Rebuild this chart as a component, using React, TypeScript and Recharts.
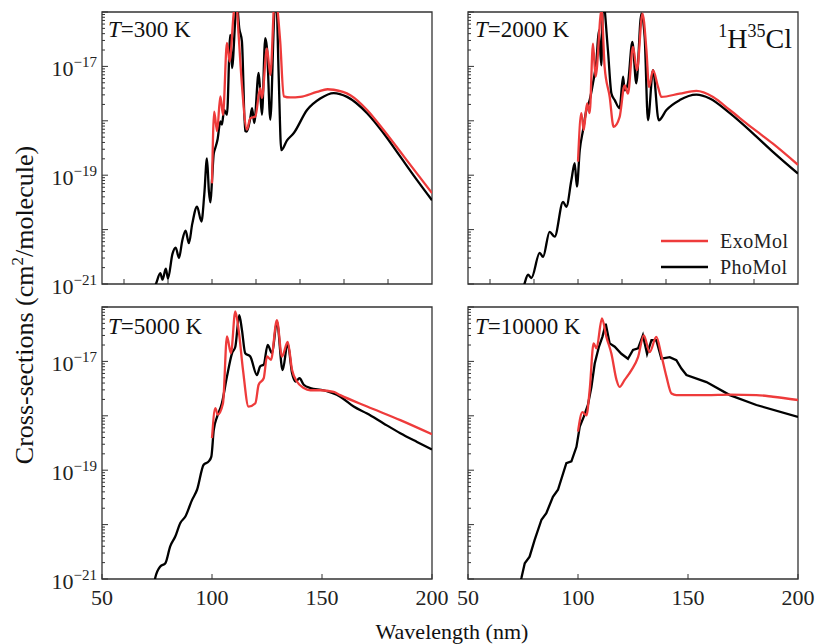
import React from 'react';
import { LineChart, Line, XAxis, YAxis, ReferenceArea } from 'recharts';

// [wavelength (nm), cross-section (cm^2/molecule)]
const pho300: number[][] = [
  [73, 7.9e-22], [74.5, 1.0e-21], [76.5, 1.58e-21], [77.5, 1.2e-21], [79, 1.91e-21], [80, 1.26e-21],
  [82, 3.55e-21], [83.5, 4.68e-21], [85, 3.02e-21], [86.5, 6.31e-21], [88, 9.55e-21], [89.5, 5.62e-21],
  [91, 1.26e-20], [93.2, 2.63e-20], [95.2, 1.41e-20], [96.5, 4.47e-20], [97.7, 2.04e-19], [98.6, 5.01e-20],
  [99.3, 3.16e-20], [100, 7.94e-20], [100.8, 2.51e-19], [101.5, 3.16e-19], [102.5, 4.47e-19], [103.8, 9.77e-19],
  [104.5, 8.51e-19], [105.5, 1.58e-18], [106.8, 1.29e-18], [108.3, 3.8e-17], [109.1, 9.33e-18], [110.6, 7.59e-17],
  [111.2, 1.58e-16], [112.4, 5.01e-17], [113.6, 2.88e-17], [115.1, 6.46e-19], [115.8, 6.31e-19], [117.4, 1.12e-18],
  [118.2, 1.7e-18], [119.2, 9.12e-19], [121.2, 7.59e-18], [121.9, 3.47e-18], [122.7, 1.29e-18], [124.2, 3.31e-17],
  [125, 2.14e-17], [126.5, 1.05e-18], [128.3, 8.91e-17], [129.2, 2.0e-16], [130.3, 6.92e-18], [131.5, 2.88e-19],
  [134.1, 4.37e-19], [137.1, 5.89e-19], [143.2, 1.58e-18], [149.2, 2.57e-18], [155.3, 3.24e-18], [161.4, 2.75e-18],
  [170.5, 1.38e-18], [178, 5.89e-19], [185.6, 2.19e-19], [193.2, 8.13e-20], [200, 3.47e-20],
];
const exo300: number[][] = [
  [100, 7.08e-20], [101, 1.48e-18], [102.3, 6.46e-19], [103.8, 2.82e-18], [105, 1.29e-18], [106.8, 2.69e-17],
  [108, 1.23e-17], [109.8, 8.91e-17], [110.8, 2.0e-16], [112.1, 3.8e-17], [113.6, 4.57e-18], [115.9, 6.92e-19],
  [117.4, 1.12e-18], [119.7, 1.2e-18], [121.9, 3.98e-18], [122.7, 2.63e-18], [125, 2.14e-17], [126.5, 6.92e-18],
  [128.6, 2.0e-16], [131, 2.88e-17], [132.6, 2.82e-18], [135.6, 2.69e-18], [140.1, 2.75e-18], [147.7, 3.39e-18],
  [152.5, 3.8e-18], [155.3, 3.72e-18], [162.9, 2.95e-18], [170.5, 1.58e-18], [178, 6.76e-19], [185.6, 2.69e-19],
  [193.2, 1.07e-19], [200, 4.68e-20],
];
const pho2000: number[][] = [
  [75, 7.94e-22], [75.8, 1.05e-21], [77.3, 1.48e-21], [78.8, 1.29e-21], [82.6, 3.72e-21], [84.1, 3.16e-21],
  [87.1, 9.12e-21], [89.4, 7.41e-21], [93.2, 3.24e-20], [94.7, 2.63e-20], [97, 8.13e-20], [98.5, 1.66e-19],
  [99.5, 6.17e-20], [100.8, 2.88e-19], [102.3, 6.76e-19], [103.8, 1.58e-18], [105.3, 2.4e-18], [106.8, 4.9e-18],
  [108.4, 1.29e-17], [109.5, 4.57e-17], [110.6, 1.05e-17], [111.4, 1.58e-16], [113.6, 2.0e-17], [115.2, 3.16e-18],
  [116.7, 2.4e-18], [118.9, 1.7e-18], [120.5, 6.46e-18], [121.2, 3.63e-18], [122.7, 4.9e-18], [124.7, 2.82e-17],
  [126.5, 4.9e-18], [128.8, 9.33e-17], [130.3, 3.47e-17], [131.8, 1.02e-18], [134.1, 8.51e-18], [136.7, 1.02e-18],
  [140.2, 1.58e-18], [146.2, 2.4e-18], [153.8, 3.02e-18], [159.9, 2.57e-18], [169, 1.38e-18], [179.5, 5.89e-19],
  [188.6, 2.69e-19], [200, 1.07e-19],
];
const exo2000: number[][] = [
  [100, 1.78e-19], [101.5, 1.38e-18], [102.6, 6.76e-19], [104.1, 2.09e-18], [105.3, 1.38e-18], [106.8, 2.63e-17],
  [108, 6.46e-18], [110.7, 1.1e-16], [112.1, 9.77e-18], [114.4, 2.75e-18], [116.2, 7.76e-19], [118.9, 1.17e-18],
  [121.2, 4.47e-18], [122.7, 3.16e-18], [125, 2.29e-17], [126.8, 8.51e-18], [129.3, 9.33e-17], [131.1, 2.0e-17],
  [132.3, 4.17e-18], [134.1, 8.51e-18], [136.4, 4.17e-18], [137.9, 2.75e-18], [146.2, 3.16e-18], [153.8, 3.55e-18],
  [161.4, 2.75e-18], [169, 1.58e-18], [179.5, 7.24e-19], [188.6, 3.8e-19], [200, 1.55e-19],
];
const pho5000: number[][] = [
  [73.5, 7.08e-22], [74.2, 1.05e-21], [76.5, 1.7e-21], [78.8, 1.95e-21], [81, 3.98e-21], [83.3, 6.03e-21],
  [85.6, 1.07e-20], [87.9, 1.41e-20], [90.9, 2.82e-20], [93.2, 4.37e-20], [96.2, 1.26e-19], [98.5, 1.45e-19],
  [99.7, 1.78e-19], [100.8, 5.5e-19], [102.3, 9.55e-19], [104.5, 1.7e-18], [106.8, 5.25e-18], [109.1, 1.41e-17],
  [110.6, 1.86e-17], [112.4, 7.08e-17], [113.6, 3.8e-17], [115.1, 1.41e-17], [117.4, 1.23e-17], [120.4, 5.62e-18],
  [121.9, 8.13e-18], [123.5, 8.71e-18], [125.3, 2.0e-17], [127.3, 1.41e-17], [129.5, 5.37e-17], [132.1, 6.92e-18],
  [134.4, 2.14e-17], [136.4, 6.03e-18], [137.9, 4.27e-18], [139.8, 4.9e-18], [141.7, 3.72e-18], [144.7, 3.24e-18],
  [150.7, 2.95e-18], [158.3, 2.24e-18], [164.4, 1.48e-18], [170.5, 1.1e-18], [178, 7.24e-19], [185.6, 4.79e-19],
  [193.2, 3.31e-19], [200, 2.4e-19],
];
const exo5000: number[][] = [
  [100, 3.89e-19], [101.5, 1.38e-18], [102.6, 1.05e-18], [105, 1.7e-18], [106.8, 2.88e-17], [108.6, 1.41e-17],
  [110.6, 8.32e-17], [112.1, 3.8e-17], [114.1, 6.92e-18], [116.6, 1.48e-18], [119.7, 1.7e-18], [121.2, 3.72e-18],
  [123.5, 4.9e-18], [125, 1.23e-17], [126.8, 1.07e-17], [129.5, 5.75e-17], [131.8, 1.23e-17], [134.4, 2.29e-17],
  [136.4, 6.92e-18], [138.6, 4.27e-18], [141.7, 3.24e-18], [144.7, 2.95e-18], [149.2, 2.95e-18], [155.3, 2.75e-18],
  [158.3, 2.4e-18], [170.5, 1.48e-18], [185.6, 8.32e-19], [200, 4.57e-19],
];
const pho10000: number[][] = [
  [73.5, 7.94e-22], [74.3, 1.05e-21], [75.8, 1.95e-21], [78, 2.57e-21], [80.3, 5.25e-21], [83.4, 1.23e-20],
  [85.6, 1.62e-20], [88.6, 3.24e-20], [90.9, 4.37e-20], [94.7, 1.35e-19], [97, 1.45e-19], [99.3, 2.69e-19],
  [100.8, 6.31e-19], [102.6, 9.55e-19], [104.5, 1.58e-18], [106.1, 3.39e-18], [107.6, 9.12e-18], [109.5, 1.86e-17],
  [111.1, 2.82e-17], [112.6, 4.9e-17], [114.4, 2.14e-17], [116.7, 1.86e-17], [119.7, 1.38e-17], [122.7, 1.12e-17],
  [125, 1.62e-17], [127.3, 1.74e-17], [129.5, 3.02e-17], [131.4, 1.38e-17], [133.4, 2.45e-17], [135.6, 2.45e-17],
  [137.9, 1.12e-17], [141.7, 1.2e-17], [144.7, 1.05e-17], [147, 7.41e-18], [149.3, 5.62e-18], [158.4, 4.17e-18],
  [169, 2.4e-18], [181.1, 1.58e-18], [200, 9.55e-19],
];
const exo10000: number[][] = [
  [100, 5.13e-19], [102, 1.17e-18], [103.8, 1.02e-18], [105.3, 2.95e-18], [107.1, 2.14e-17], [108.4, 1.74e-17],
  [110.9, 6.17e-17], [112.9, 2.82e-17], [115.2, 1.38e-17], [117.5, 4.57e-18], [118.9, 3.39e-18], [121.2, 4.57e-18],
  [124.3, 6.92e-18], [127.3, 1.2e-17], [129.9, 3.02e-17], [132.6, 1.48e-17], [135.6, 2.82e-17], [137.9, 1.29e-17],
  [140.2, 5.25e-18], [142.5, 2.57e-18], [144.7, 2.4e-18], [158.4, 2.4e-18], [169, 2.45e-18], [181.1, 2.4e-18],
  [188.6, 2.24e-18], [200, 1.95e-18],
];

const temperatures = ['300', '2000', '5000', '10000'];
const xTicksTop = [60, 80, 100, 120, 140, 160, 180];
const xTicksBottom = [50, 100, 150, 200];
const decades = [-21, -20, -19, -18, -17];
const labeledExponents = [-21, -19, -17];
const seriesNames = ['ExoMol', 'PhoMol'];

const FONT = '"Liberation Serif", "Times New Roman", serif';
const RED = '#ee3b3b';
const FRAME = '#333';

const yTicks: number[] = [];
decades.forEach((d) => {
  for (let k = 1; k <= 9; k++) yTicks.push(k * Math.pow(10, d));
});
yTicks.push(1e-16);

const toRows = (pairs: number[][]) => pairs.map(([wl, xs]) => ({ wl, xs }));

const makeYTick = (showLabel: boolean) => (props: any) => {
  const { x, y, payload } = props;
  const e = Math.log10(payload.value);
  const re = Math.round(e);
  const major = Math.abs(e - re) < 1e-6;
  const len = major ? 6 : 3;
  return (
    <g>
      <line x1={x} y1={y} x2={x + len} y2={y} stroke={FRAME} strokeWidth={1} />
      {showLabel && major && labeledExponents.includes(re) && (
        <text x={x - 5} y={y + 10} textAnchor="end" fontFamily={FONT} fontSize={22} fill="#222">
          10
          <tspan dy={-9} fontSize={15}>{'\u2212' + String(-re)}</tspan>
        </text>
      )}
    </g>
  );
};

const makeXTick = (showLabel: boolean) => (props: any) => {
  const { x, y, payload } = props;
  return (
    <g>
      <line x1={x} y1={y} x2={x} y2={y - 5} stroke={FRAME} strokeWidth={1} />
      {showLabel && (
        <text x={x} y={y + 26} textAnchor="middle" fontFamily={FONT} fontSize={22} fill="#222">
          {payload.value}
        </text>
      )}
    </g>
  );
};

type PanelProps = {
  pho: number[][];
  exo: number[][];
  left: number;
  top: number;
  yw: number;
  xh: number;
  isLeft: boolean;
  isBottom: boolean;
  stepped?: boolean;
};

const Panel = ({ pho, exo, left, top, yw, xh, isLeft, isBottom, stepped }: PanelProps) => {
  const plotW = 330;
  const plotH = 272;
  const rm = isBottom ? 20 : 2;
  const width = yw + plotW + rm;
  const height = 2 + plotH + xh;
  return (
    <div style={{ position: 'absolute', left, top }}>
      <LineChart width={width} height={height} margin={{ top: 2, right: rm, bottom: 0, left: 0 }}>
        <XAxis
          type="number"
          dataKey="wl"
          domain={[50, 200]}
          allowDataOverflow
          ticks={isBottom ? xTicksBottom : xTicksTop}
          interval={0}
          height={xh}
          axisLine={false}
          tickLine={false}
          tickSize={0}
          tickMargin={0}
          tick={makeXTick(isBottom)}
        />
        <YAxis
          type="number"
          scale="log"
          domain={[1e-21, 1e-16]}
          allowDataOverflow
          ticks={yTicks}
          interval={0}
          width={yw}
          axisLine={false}
          tickLine={false}
          tickSize={0}
          tickMargin={0}
          tick={makeYTick(isLeft)}
        />
        <Line
          data={toRows(pho)}
          dataKey="xs"
          type={stepped ? 'linear' : 'monotone'}
          stroke="#000"
          strokeWidth={2.3}
          dot={false}
          isAnimationActive={false}
          name={seriesNames[1]}
        />
        <Line
          data={toRows(exo)}
          dataKey="xs"
          type="monotone"
          stroke={RED}
          strokeWidth={2.3}
          dot={false}
          isAnimationActive={false}
          name={seriesNames[0]}
        />
        <ReferenceArea
          x1={50}
          x2={200}
          y1={1e-21}
          y2={1e-16}
          fill="none"
          fillOpacity={0}
          stroke={FRAME}
          strokeWidth={1.3}
          ifOverflow="visible"
        />
      </LineChart>
    </div>
  );
};

const PanelLabel = ({ x, y, t }: { x: number; y: number; t: string }) => (
  <text x={x} y={y} fontFamily={FONT} fontSize={23} fill="#111">
    <tspan fontStyle="italic">T</tspan>={t} K
  </text>
);

export default function App() {
  return (
    <div style={{ position: 'absolute', left: 0, top: 0, width: 816, height: 644, background: '#fff', fontFamily: FONT }}>
      <Panel pho={pho300} exo={exo300} left={0} top={10} yw={102} xh={20} isLeft isBottom={false} />
      <Panel pho={pho2000} exo={exo2000} left={458} top={10} yw={10} xh={20} isLeft={false} isBottom={false} />
      <Panel pho={pho5000} exo={exo5000} left={0} top={305} yw={102} xh={40} isLeft isBottom />
      <Panel pho={pho10000} exo={exo10000} left={458} top={305} yw={10} xh={40} isLeft={false} isBottom stepped />
      <svg width={816} height={644} style={{ position: 'absolute', left: 0, top: 0, pointerEvents: 'none' }}>
        <text transform="translate(33,305) rotate(-90)" textAnchor="middle" fontFamily={FONT} fontSize={26} fill="#111">
          Cross-sections (cm<tspan dy={-10} fontSize={17}>2</tspan>
          <tspan dy={10}>/molecule)</tspan>
        </text>
        <text x={452} y={639} textAnchor="middle" fontFamily={FONT} fontSize={22} fill="#111">
          Wavelength (nm)
        </text>
        <PanelLabel x={108} y={37} t={temperatures[0]} />
        <PanelLabel x={475} y={37} t={temperatures[1]} />
        <PanelLabel x={108} y={334} t={temperatures[2]} />
        <PanelLabel x={475} y={334} t={temperatures[3]} />
        <text x={792} y={48} textAnchor="end" fontFamily={FONT} fontSize={28} fill="#111">
          <tspan fontSize={18} dy={-11}>1</tspan>
          <tspan dy={11}>H</tspan>
          <tspan fontSize={18} dy={-11}>35</tspan>
          <tspan dy={11}>Cl</tspan>
        </text>
        <line x1={661} y1={241} x2={708} y2={241} stroke={RED} strokeWidth={2.3} />
        <text x={720} y={248} fontFamily={FONT} fontSize={20} letterSpacing={0.5} fill="#222">{seriesNames[0]}</text>
        <line x1={661} y1={267} x2={708} y2={267} stroke="#000" strokeWidth={2.3} />
        <text x={720} y={274} fontFamily={FONT} fontSize={20} letterSpacing={0.5} fill="#222">{seriesNames[1]}</text>
      </svg>
    </div>
  );
}
